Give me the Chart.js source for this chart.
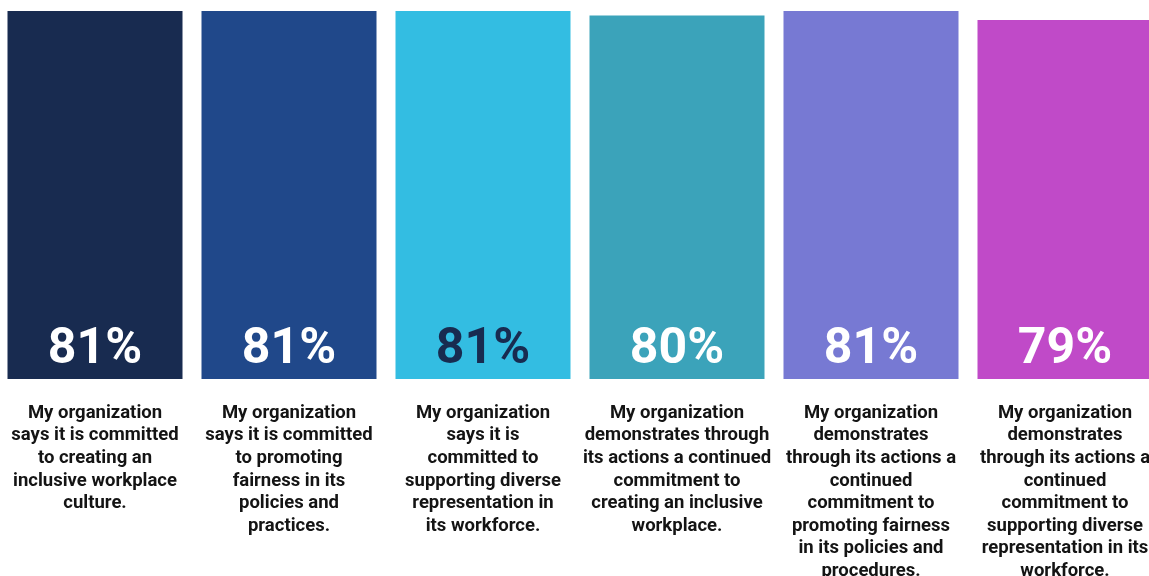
<!DOCTYPE html>
<html>
<head>
<meta charset="utf-8">
<script src="https://cdn.jsdelivr.net/npm/chart.js@4/dist/chart.umd.min.js"></script>
<style>
  html, body { margin: 0; padding: 0; background: #ffffff; overflow: hidden; }
  #wrap { position: absolute; left: -2px; top: 0; width: 1164px; height: 576px; }
</style>
</head>
<body>
<div id="wrap"><canvas id="chart"></canvas></div>
<script>
// Survey statements (wrapped into lines for the axis)
const statements = [
  ["My organization", "says it is committed", "to creating an", "inclusive workplace", "culture."],
  ["My organization", "says it is committed", "to promoting", "fairness in its", "policies and", "practices."],
  ["My organization", "says it is", "committed to", "supporting diverse", "representation in", "its workforce."],
  ["My organization", "demonstrates through", "its actions a continued", "commitment to", "creating an inclusive", "workplace."],
  ["My organization", "demonstrates", "through its actions a", "continued", "commitment to", "promoting fairness", "in its policies and", "procedures."],
  ["My organization", "demonstrates", "through its actions a", "continued", "commitment to", "supporting diverse", "representation in its", "workforce."]
];

// Share of respondents agreeing (%)
const agreePct = [81, 81, 81, 80, 81, 79];

const barColors = ["#182B50", "#20488A", "#33BDE2", "#3BA3BA", "#7779D3", "#C04AC8"];
const valueColors = ["#FFFFFF", "#FFFFFF", "#182B50", "#FFFFFF", "#FFFFFF", "#FFFFFF"];

// Writes the percentage near the bottom of each bar
const valueLabels = {
  id: "valueLabels",
  afterDatasetsDraw(chart) {
    const ctx = chart.ctx;
    const meta = chart.getDatasetMeta(0);
    ctx.save();
    ctx.font = "700 50px Roboto";
    ctx.textAlign = "center";
    ctx.textBaseline = "middle";
    meta.data.forEach((bar, i) => {
      ctx.fillStyle = valueColors[i];
      ctx.fillText(agreePct[i] + "%", bar.x, chart.chartArea.bottom - 29);
    });
    ctx.restore();
  }
};

new Chart(document.getElementById("chart"), {
  type: "bar",
  data: {
    labels: statements,
    datasets: [{
      data: agreePct,
      backgroundColor: barColors,
      borderWidth: 0,
      barPercentage: 1,
      categoryPercentage: 175 / 194
    }]
  },
  options: {
    responsive: true,
    maintainAspectRatio: false,
    animation: false,
    layout: { padding: { top: 11, left: 0, right: 0, bottom: 0 } },
    plugins: { legend: { display: false }, tooltip: { enabled: false } },
    scales: {
      y: { display: false, min: 0, max: 81 },
      x: {
        grid: { display: false, drawTicks: false },
        border: { display: false },
        afterFit(scale) {
          scale.height = 576 - 379;
          // keep the category bands spanning the full width
          scale.paddingLeft = 0;
          scale.paddingRight = 0;
        },
        ticks: {
          autoSkip: false,
          maxRotation: 0,
          padding: 23,
          color: "#141414",
          font: { family: "Roboto", size: 18.5, weight: "700", lineHeight: 1.22 }
        }
      }
    }
  },
  plugins: [valueLabels]
});
</script>
</body>
</html>
